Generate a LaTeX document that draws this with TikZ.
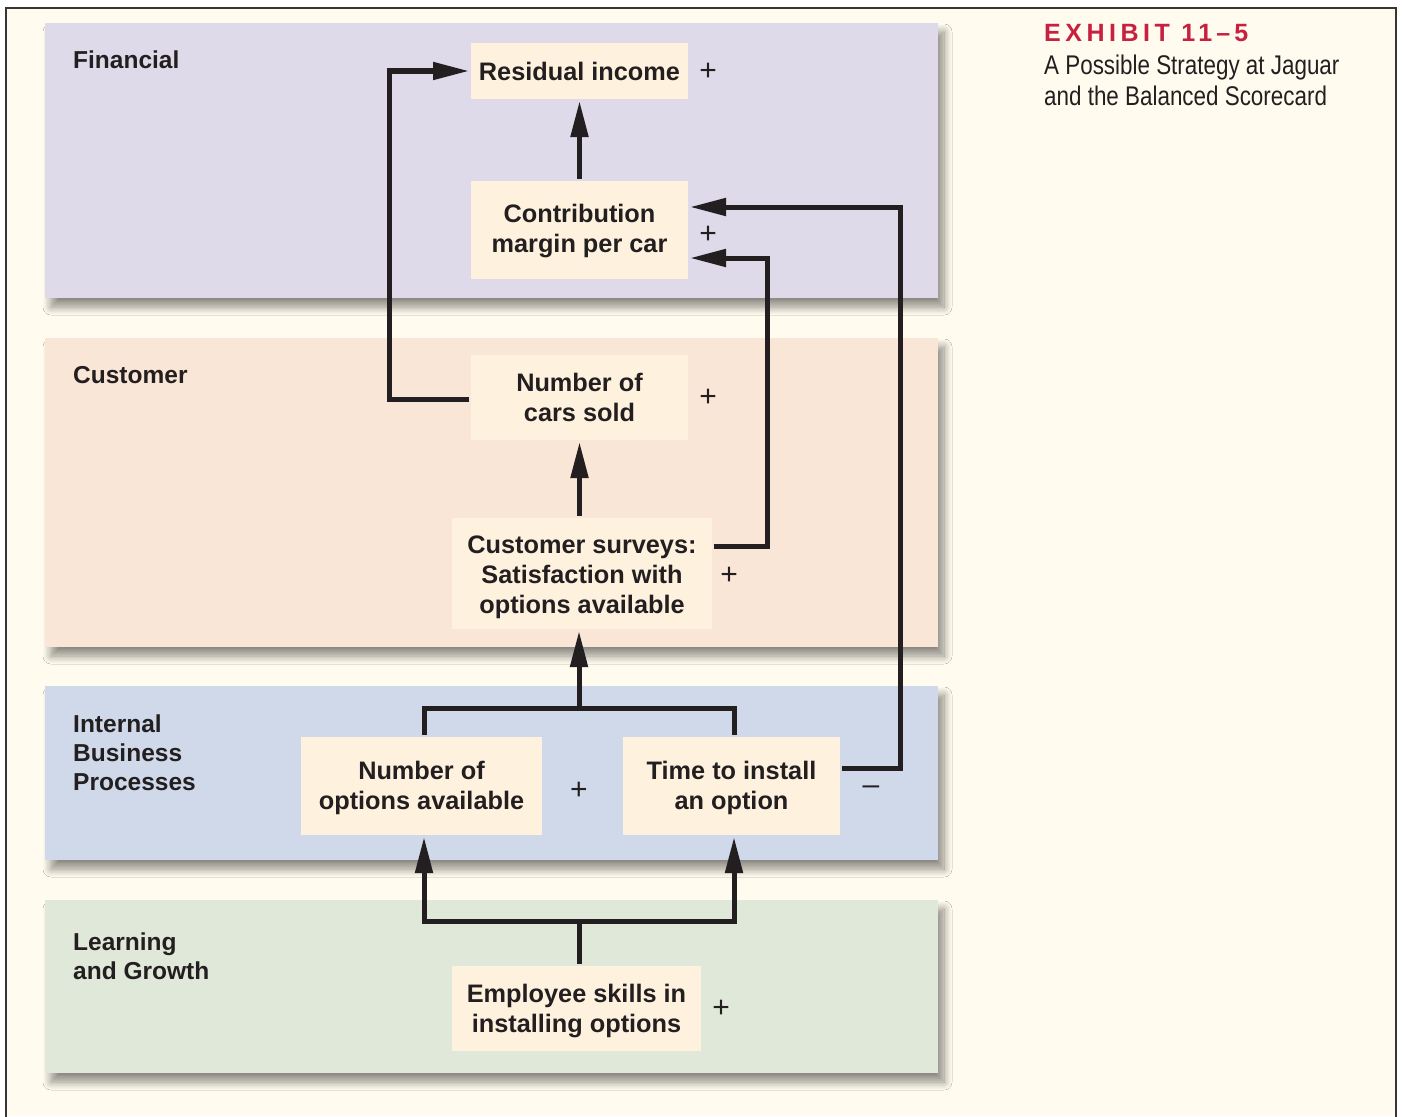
\documentclass[tikz,border=0pt]{standalone}
\usepackage{fontspec}
\setmainfont{Liberation Sans}
\newfontfamily\capfont[FakeStretch=0.83]{Liberation Sans}
\usetikzlibrary{arrows.meta,shadows.blur,calc}
\definecolor{ink}{RGB}{35,31,32}
\definecolor{paper}{RGB}{255,252,239}
\definecolor{finbg}{RGB}{223,218,233}
\definecolor{cusbg}{RGB}{250,230,215}
\definecolor{intbg}{RGB}{208,217,233}
\definecolor{lrnbg}{RGB}{224,232,217}
\definecolor{boxbg}{RGB}{254,242,223}
\definecolor{exred}{RGB}{200,32,64}
% stacked lines, set a little lower than the box centre
\newcommand\lowlines[2]{\raisebox{-#1}[\height][\depth]{\begin{tabular}{@{}c@{}}#2\end{tabular}}}
\tikzset{
  panel/.style={fill=#1, draw=none,
    blur shadow={shadow xshift=6pt, shadow yshift=-9pt, shadow blur radius=8pt, shadow blur steps=14, shadow opacity=45}},
  measure/.style={fill=boxbg, draw=none, align=center, inner sep=0pt, outer sep=2pt,
    text=ink, font=\fontsize{25.3}{30}\selectfont\bfseries},
  lane/.style={anchor=north west, align=left, inner sep=0pt, text=ink,
    font=\fontsize{24.5}{29}\selectfont\bfseries},
  sign/.style={inner sep=0pt, text=ink, font=\fontsize{30}{30}\selectfont},
  link/.style={draw=ink, line width=5pt},
  arr/.style={link, -{Triangle[length=36pt,width=17pt]}},
}
\begin{document}
\begin{tikzpicture}[x=1pt,y=-1pt]
\useasboundingbox (0,0) rectangle (1402,1116);
\fill[white] (0,0) rectangle (1402,1116);
\fill[paper] (6,8) rectangle (1396,1116);
\draw[ink!90, line width=2.5pt] (6,1120) -- (6,8) -- (1396,8) -- (1396,1120);

% perspective bands
\path[panel=finbg] (45,23) rectangle (938,298);
\path[panel=cusbg] (45,338) rectangle (938,647);
\path[panel=intbg] (45,686) rectangle (938,860);
\path[panel=lrnbg] (45,900) rectangle (938,1073);

% band titles
\node[lane] (lfin) at (73,51) {Financial};
\node[lane] (lcus) at (73,366) {Customer};
\node[lane] (lint) at (73,715) {Internal\\Business\\Processes};
\node[lane] (llrn) at (73,933) {Learning\\and Growth};

% exhibit caption
\node[anchor=north west, inner sep=0pt, text=exred,
      font=\fontsize{25}{25}\selectfont\bfseries\addfontfeatures{LetterSpace=18}] (ttl) at (1044,24) {EXHIBIT 11\,–\,5};
\node[anchor=north west, inner sep=0pt, align=left, text=ink,
      font=\capfont\fontsize{27}{31}\selectfont] (sub) at (1044,55) {A Possible Strategy at Jaguar\\and the Balanced Scorecard};

% measures
\node[measure, minimum width=217pt, minimum height=56pt] (res) at (579.5,71) {Residual income};
\node[measure, minimum width=217pt, minimum height=98pt] (contrib) at (579.5,230) {\lowlines{1pt}{Contribution\\margin per car}};
\node[measure, minimum width=217pt, minimum height=85pt] (cars) at (579.5,397.5) {Number of\\cars sold};
\node[measure, minimum width=260pt, minimum height=111pt] (surv) at (582,573.5) {\lowlines{3.5pt}{Customer surveys:\\Satisfaction with\\options available}};
\node[measure, minimum width=241pt, minimum height=98pt] (opts) at (421.5,786) {\lowlines{2.5pt}{Number of\\options available}};
\node[measure, minimum width=217pt, minimum height=98pt] (inst) at (731.5,786) {\lowlines{2.5pt}{Time to install\\an option}};
\node[measure, minimum width=249pt, minimum height=85pt] (emp) at (576.5,1008.5) {\lowlines{3pt}{Employee skills in\\installing options}};

% signs
\node[sign] (s1) at (708,72) {+};
\node[sign] (s2) at (708,235) {+};
\node[sign] (s3) at (708,398) {+};
\node[sign] (s4) at (729,576) {+};
\node[sign] (s5) at (579,791) {+};
\node[sign] (s6) at (871,790) {–};
\node[sign] (s7) at (721,1009) {+};

% causal links
\draw[arr] ([yshift=-1.5pt]cars.west) -- ++(-80,0) |- (res.west);
\draw[arr] (res.south |- contrib.north) -- (res.south);
\draw[arr] ([yshift=18pt]inst.east) -- ++(58,0) |- ([yshift=23pt]contrib.east);
\draw[arr] ([yshift=27.5pt]surv.east) -- ++(53,0) |- ([yshift=-28pt]contrib.east);
\draw[arr] (cars.south |- surv.north) -- (cars.south);

\coordinate (join) at (579,708);
\draw[link] ([xshift=2.5pt]opts.north) |- (join) -| ([xshift=2.5pt]inst.north);
\draw[arr] (join) -- (join |- surv.south);

\coordinate (split) at (579,921);
\draw[link] (split |- emp.north) -- (split);
\draw[arr] (split) -| ([xshift=2.5pt]opts.south);
\draw[arr] (split) -| ([xshift=2.5pt]inst.south);
\end{tikzpicture}
\end{document}
